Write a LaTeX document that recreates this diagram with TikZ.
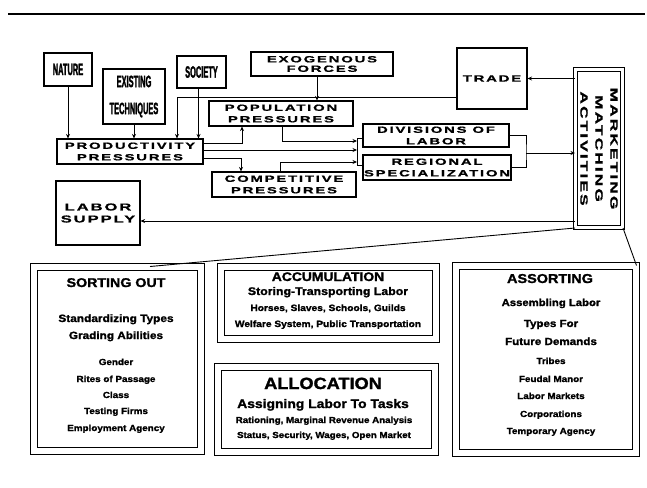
\documentclass[tikz,border=0pt]{standalone}
\usepackage{fontspec}
\setmainfont{Liberation Sans}
\newfontfamily\widefont[FakeStretch=1.65,LetterSpace=20,FakeBold=1.2]{Liberation Sans}
\newfontfamily\narrowfont[FakeStretch=0.45,FakeBold=1.5]{Liberation Sans}
\newfontfamily\blackfont[FakeStretch=1.12,FakeBold=1.6]{Liberation Sans}
\usepackage{tikz}
\usetikzlibrary{arrows.meta,positioning,calc}
\tikzstyle{plain}=[rectangle, draw=black, line width=1.1pt, inner sep=0pt, align=center,
  font=\widefont\bfseries\fontsize{9}{11.5}\selectfont]
\tikzstyle{tall}=[plain, font=\narrowfont\bfseries\fontsize{16.5}{27}\selectfont]
\tikzstyle{dbox}=[rectangle, draw=black, line width=1pt, double, double distance=6pt, inner sep=0pt]
\tikzstyle{txt}=[anchor=base, inner sep=0pt, font=\blackfont\bfseries]
\tikzstyle{arrow}=[-{Stealth[length=4.5pt,width=4pt]}, line width=0.9pt]
\tikzstyle{link}=[line width=0.9pt]
\newcommand{\fsz}[1]{\fontsize{#1}{#1}\selectfont}

\begin{document}
\begin{tikzpicture}[x=1pt,y=-1pt]
\useasboundingbox (0,0) rectangle (647,487);
\draw[line width=2.5pt] (8,14) -- (645,14);

\node (nature) [tall, minimum width=48pt, minimum height=33pt] at (68,69.5) {NATURE};
\node (tech) [tall, minimum width=62pt, minimum height=55pt] at (134,96.5) {EXISTING\\TECHNIQUES};
\node (society) [tall, minimum width=49pt, minimum height=32pt] at (201.5,72) {SOCIETY};
\node (exo) [plain, minimum width=142pt, minimum height=24pt, font=\widefont\bfseries\fontsize{9}{9.5}\selectfont] at (322,64) {EXOGENOUS\\FORCES};
\node (popul) [plain, minimum width=144pt, minimum height=25pt] at (281,113.5) {POPULATION\\PRESSURES};
\node (prod) [plain, minimum width=146pt, minimum height=25pt] at (130,151.5) {PRODUCTIVITY\\PRESSURES};
\node (compet) [plain, minimum width=144pt, minimum height=25pt] at (284,184.5) {COMPETITIVE\\PRESSURES};
\node (labor) [plain, minimum width=84pt, minimum height=64pt, font=\widefont\bfseries\fontsize{10}{12}\selectfont] at (98,213) {LABOR\\SUPPLY};
\node (trade) [plain, minimum width=70pt, minimum height=61pt] at (492,78.5) {TRADE};
\node (divis) [plain, minimum width=146pt, minimum height=23pt] at (436,135.5) {DIVISIONS OF\\LABOR};
\node (region) [plain, minimum width=148pt, minimum height=25pt] at (437,167.5) {REGIONAL\\SPECIALIZATION};
\node (market) [dbox, double distance=3pt, minimum width=47pt, minimum height=158pt] at (599,148.5) {};
\node (marktxt) [rotate=-90, align=center, font=\widefont\bfseries\fontsize{10.5}{15}\selectfont] at (market.center) {MARKETING\\MATCHING\\ACTIVITIES};

\node (sort) [dbox, minimum width=167pt, minimum height=184pt] at (117.5,359) {};
\node (accum) [dbox, minimum width=215pt, minimum height=72pt] at (328.5,303) {};
\node (alloc) [dbox, minimum width=217pt, minimum height=85pt] at (326.5,409.5) {};
\node (assort) [dbox, minimum width=180pt, minimum height=187pt] at (546,359.5) {};

\node (sort1) [txt] at (116,287) {\fsz{12.7}SORTING OUT};
\node (sort2) [txt] at (116,322) {\fsz{10.6}Standardizing Types};
\node (sort3) [txt] at (116,339) {\fsz{10.5}Grading Abilities};
\node (sort4) [txt] at (116,365) {\fsz{8.8}Gender};
\node (sort5) [txt] at (116,382) {\fsz{8.8}Rites of Passage};
\node (sort6) [txt] at (116,398) {\fsz{8.8}Class};
\node (sort7) [txt] at (116,414) {\fsz{8.8}Testing Firms};
\node (sort8) [txt] at (116,431) {\fsz{8.8}Employment Agency};

\node (accum1) [txt] at (328,281) {\fsz{12.4}ACCUMULATION};
\node (accum2) [txt] at (328,295) {\fsz{11}Storing-Transporting Labor};
\node (accum3) [txt] at (328,311) {\fsz{9.1}Horses, Slaves, Schools, Guilds};
\node (accum4) [txt] at (328,327) {\fsz{9.1}Welfare System, Public Transportation};

\node (alloc1) [txt] at (323,389) {\fsz{16.2}ALLOCATION};
\node (alloc2) [txt] at (323,408) {\fsz{12.4}Assigning Labor To Tasks};
\node (alloc3) [txt] at (324,423) {\fsz{8.7}Rationing, Marginal Revenue Analysis};
\node (alloc4) [txt] at (324,438) {\fsz{8.7}Status, Security, Wages, Open Market};

\node (assort1) [txt] at (550,283) {\fsz{12.9}ASSORTING};
\node (assort2) [txt] at (551,306) {\fsz{10.1}Assembling Labor};
\node (assort3) [txt] at (551,327) {\fsz{10.3}Types For};
\node (assort4) [txt] at (551,345) {\fsz{10.4}Future Demands};
\node (assort5) [txt] at (551,364) {\fsz{8.8}Tribes};
\node (assort6) [txt] at (551,382) {\fsz{8.8}Feudal Manor};
\node (assort7) [txt] at (551,399) {\fsz{8.8}Labor Markets};
\node (assort8) [txt] at (551,417) {\fsz{8.8}Corporations};
\node (assort9) [txt] at (551,434) {\fsz{8.8}Temporary Agency};

\coordinate (lb-top) at (357,138);
\coordinate (lb-bot) at (357,165);
\coordinate (rb) at (526,153);

\draw[arrow] (nature) -- (nature |- prod.north);
\draw[arrow] (tech) -- (tech |- prod.north);
\draw[arrow] ([xshift=-3pt]society.south) -- ([xshift=-3pt]society.south |- prod.north);
\draw[arrow] ([yshift=-18.5pt]trade.west) -| ([xshift=47pt]prod.north);
\draw[arrow] ([xshift=-5pt]exo.south) -- ([xshift=-5pt]exo.south |- popul.north);
\draw[arrow] ([yshift=8.5pt]prod.east) -| ([xshift=-39pt]popul.south);
\draw[arrow] ([yshift=-6.5pt]prod.east) -| ([xshift=-43pt]compet.north);
\draw[arrow] ([yshift=1.5pt]prod.east) -- ([yshift=1.5pt]prod.east -| lb-top);
\draw[arrow] ([xshift=1pt]popul.south) |- ([yshift=-3pt]lb-top);
\draw[arrow] ([xshift=-4pt]compet.north) |- ([yshift=3pt]lb-bot);
\draw[link] (lb-top -| divis.west) -- (lb-top) -- (lb-bot) -- (lb-bot -| region.west);
\draw[link] (divis.east) -| (rb) |- (region.east);
\draw[arrow] (rb) -- (rb -| market.west);
\draw[arrow] (trade.east -| market.west) -- (trade.east);
\draw[arrow] ([yshift=-8pt]labor.east -| market.west) -- ([yshift=-8pt]labor.east);
\draw[link] (market.south west) -- ([xshift=32.5pt]sort.north);
\draw[link] (market.south east) -- (assort.north east);
\end{tikzpicture}
\end{document}
